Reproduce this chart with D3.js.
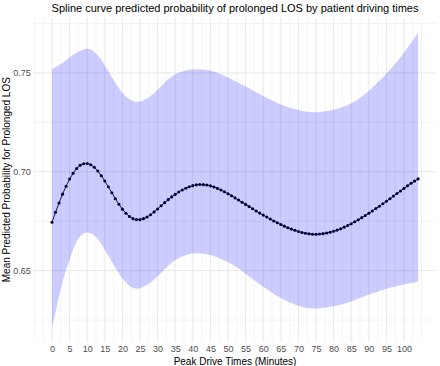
<!DOCTYPE html>
<html>
<head>
<meta charset="utf-8">
<script src="https://cdn.jsdelivr.net/npm/d3@7"></script>
<style>
  html, body { margin: 0; padding: 0; background: #fff; }
  svg { display: block; font-family: "Liberation Sans", Arial, sans-serif; }
</style>
</head>
<body>
<svg id="chart" width="440" height="366"></svg>
<script>
// ---- data ----
const driveTimes = d3.range(0, 105); // 0..104 minutes, one point per minute
const meanProb = [
  0.6745, 0.6795, 0.6842, 0.6887, 0.6927, 0.6963, 0.6993, 0.7017, 0.7033, 0.7041,
  0.7042, 0.7036, 0.7023, 0.7004, 0.6980, 0.6953, 0.6924, 0.6894, 0.6864, 0.6836,
  0.6811, 0.6790, 0.6774, 0.6763, 0.6758, 0.6758, 0.6763, 0.6771, 0.6783, 0.6797,
  0.6812, 0.6828, 0.6844, 0.6859, 0.6873, 0.6886, 0.6898, 0.6908, 0.6917, 0.6924,
  0.6930, 0.6934, 0.6936, 0.6935, 0.6933, 0.6929, 0.6923, 0.6916, 0.6908, 0.6899,
  0.6889, 0.6879, 0.6868, 0.6857, 0.6846, 0.6835, 0.6824, 0.6813, 0.6802, 0.6791,
  0.6781, 0.6771, 0.6761, 0.6751, 0.6742, 0.6733, 0.6725, 0.6717, 0.6710, 0.6704,
  0.6698, 0.6693, 0.6689, 0.6686, 0.6684, 0.6684, 0.6685, 0.6687, 0.6690, 0.6694,
  0.6699, 0.6705, 0.6712, 0.6720, 0.6728, 0.6737, 0.6747, 0.6757, 0.6768, 0.6779,
  0.6790, 0.6802, 0.6814, 0.6826, 0.6838, 0.6851, 0.6864, 0.6877, 0.6890, 0.6903,
  0.6916, 0.6929, 0.6942, 0.6953, 0.6964
];
const bandTimes = [0, 1, 3, 5, 7, 10, 13, 16, 18, 21, 24, 27, 30, 33, 35, 38, 41, 44, 47, 50, 53, 56, 60, 65, 70, 74, 79, 84, 88, 93, 98, 104];
const upperCI = [0.7519, 0.7530, 0.7550, 0.7578, 0.7603, 0.7623, 0.7590, 0.7510, 0.7450, 0.7381, 0.7354, 0.7371, 0.7415, 0.7468, 0.7493, 0.7513, 0.7519, 0.7515, 0.7501, 0.7477, 0.7450, 0.7422, 0.7383, 0.7340, 0.7312, 0.7301, 0.7310, 0.7338, 0.7380, 0.7460, 0.7557, 0.7705];
const lowerCI = [0.6215, 0.6290, 0.6442, 0.6558, 0.6648, 0.6693, 0.6660, 0.6575, 0.6515, 0.6440, 0.6408, 0.6428, 0.6472, 0.6525, 0.6553, 0.6578, 0.6588, 0.6583, 0.6567, 0.6542, 0.6511, 0.6470, 0.6419, 0.6362, 0.6322, 0.6308, 0.6317, 0.6338, 0.6365, 0.6397, 0.6422, 0.6444];
const xTicks = d3.range(0, 101, 5);
const yTicks = [0.65, 0.70, 0.75];
const titleText = "Spline curve predicted probability of prolonged LOS by patient driving times";
const xTitle = "Peak Drive Times (Minutes)";
const yTitle = "Mean Predicted Probability for Prolonged LOS";

// ---- layout ----
const svg = d3.select("#chart");
const panel = { left: 33.7, right: 436.4, top: 17.7, bottom: 341.7 };

function expand(ext, f) { const d = (ext[1] - ext[0]) * f; return [ext[0] - d, ext[1] + d]; }
const xDom = expand(d3.extent(driveTimes), 0.05);
const yDom = expand([d3.min(lowerCI), d3.max(upperCI)], 0.05);

const x = d3.scaleLinear().domain(xDom).range([panel.left, panel.right]);
const y = d3.scaleLinear().domain(yDom).range([panel.bottom, panel.top]);

// minor breaks (ggplot style)
const xMinor = d3.range(-5, 106, 2.5).filter(v => v % 5 !== 0 && v >= xDom[0] && v <= xDom[1]).concat([-5, 105].filter(v => v >= xDom[0] && v <= xDom[1]));
const yMinor = [0.625, 0.675, 0.725, 0.775].filter(v => v >= yDom[0] && v <= yDom[1]);

const grid = svg.append("g");
grid.selectAll(".xmin").data(xMinor).join("line")
  .attr("x1", d => x(d)).attr("x2", d => x(d))
  .attr("y1", panel.top).attr("y2", panel.bottom)
  .attr("stroke", "#ededed").attr("stroke-width", 0.6);
grid.selectAll(".ymin").data(yMinor).join("line")
  .attr("y1", d => y(d)).attr("y2", d => y(d))
  .attr("x1", panel.left).attr("x2", panel.right)
  .attr("stroke", "#ededed").attr("stroke-width", 0.6);
grid.selectAll(".xmaj").data(xTicks).join("line")
  .attr("x1", d => x(d)).attr("x2", d => x(d))
  .attr("y1", panel.top).attr("y2", panel.bottom)
  .attr("stroke", "#e8e8e8").attr("stroke-width", 1);
grid.selectAll(".ymaj").data(yTicks).join("line")
  .attr("y1", d => y(d)).attr("y2", d => y(d))
  .attr("x1", panel.left).attr("x2", panel.right)
  .attr("stroke", "#e8e8e8").attr("stroke-width", 1);

// ---- line + points (under the translucent ribbon) ----
const pts = driveTimes.map((t, i) => ({ t, v: meanProb[i] }));
svg.append("path").datum(pts)
  .attr("fill", "none").attr("stroke", "#000000").attr("stroke-width", 0.9)
  .attr("d", d3.line().x(d => x(d.t)).y(d => y(d.v)));
svg.append("g").selectAll("circle").data(pts).join("circle")
  .attr("cx", d => x(d.t)).attr("cy", d => y(d.v)).attr("r", 1.55)
  .attr("fill", "#000000");

// ---- ribbon ----
const band = bandTimes.map((t, i) => ({ t, lo: lowerCI[i], hi: upperCI[i] }));
svg.append("path").datum(band)
  .attr("fill", "#0000ff").attr("fill-opacity", 0.2)
  .attr("d", d3.area().curve(d3.curveMonotoneX)
    .x(d => x(d.t)).y0(d => y(d.lo)).y1(d => y(d.hi)));

// ---- axes ----
const xAxis = d3.axisBottom(x).tickValues(xTicks).tickSize(0).tickPadding(0).tickFormat(d3.format("d"));
const gx = svg.append("g").attr("transform", `translate(0,${panel.bottom + 4})`).call(xAxis);
gx.select(".domain").remove();
gx.selectAll("text").attr("font-size", 9).attr("fill", "#4d4d4d")
  .attr("font-family", "'Liberation Sans', Arial, sans-serif").attr("dy", "0.71em");

const yAxis = d3.axisLeft(y).tickValues(yTicks).tickSize(0).tickPadding(0).tickFormat(d3.format(".2f"));
const gy = svg.append("g").attr("transform", `translate(${panel.left - 3},0)`).call(yAxis);
gy.select(".domain").remove();
gy.selectAll("text").attr("font-size", 9).attr("fill", "#4d4d4d")
  .attr("font-family", "'Liberation Sans', Arial, sans-serif");

// ---- titles ----
svg.append("text").attr("x", (panel.left + panel.right) / 2).attr("y", 11.5)
  .attr("text-anchor", "middle").attr("font-size", 11).attr("fill", "#000")
  .text(titleText);
svg.append("text").attr("x", (panel.left + panel.right) / 2).attr("y", 365.3)
  .attr("text-anchor", "middle").attr("font-size", 10).attr("fill", "#000")
  .text(xTitle);
svg.append("text")
  .attr("transform", `translate(9.5,${(panel.top + panel.bottom) / 2}) rotate(-90)`)
  .attr("text-anchor", "middle").attr("font-size", 10).attr("fill", "#000")
  .text(yTitle);
</script>
</body>
</html>
